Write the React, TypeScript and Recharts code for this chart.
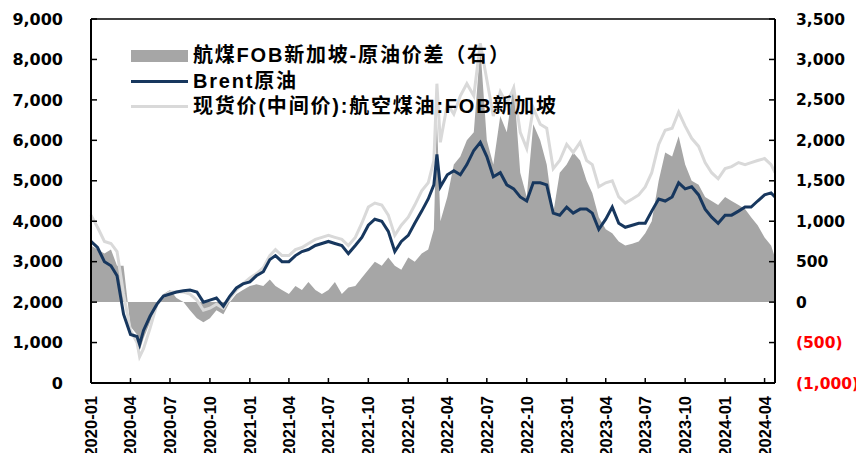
import React from 'react';
import { ComposedChart, Area, Line, XAxis, YAxis, Legend, ReferenceLine } from 'recharts';

// 日期（半月一个点，关键尖峰处补点）
const dates = [
  '2020-01-01', '2020-01-16', '2020-02-01', '2020-02-16', '2020-03-01', '2020-03-16',
  '2020-04-01', '2020-04-16', '2020-04-22', '2020-05-01', '2020-05-16', '2020-06-01',
  '2020-06-16', '2020-07-01', '2020-07-16', '2020-08-01', '2020-08-16', '2020-09-01',
  '2020-09-16', '2020-10-01', '2020-10-16', '2020-11-01', '2020-11-16', '2020-12-01',
  '2020-12-16', '2021-01-01', '2021-01-16', '2021-02-01', '2021-02-16', '2021-03-01',
  '2021-03-16', '2021-04-01', '2021-04-16', '2021-05-01', '2021-05-16', '2021-06-01',
  '2021-06-16', '2021-07-01', '2021-07-16', '2021-08-01', '2021-08-16', '2021-09-01',
  '2021-09-16', '2021-10-01', '2021-10-16', '2021-11-01', '2021-11-16', '2021-12-01',
  '2021-12-16', '2022-01-01', '2022-01-16', '2022-02-01', '2022-02-16', '2022-03-01',
  '2022-03-08', '2022-03-16', '2022-04-01', '2022-04-16', '2022-05-01', '2022-05-16',
  '2022-06-01', '2022-06-16', '2022-07-01', '2022-07-16', '2022-08-01', '2022-08-16',
  '2022-09-01', '2022-09-16', '2022-10-01', '2022-10-16', '2022-11-01', '2022-11-16',
  '2022-12-01', '2022-12-16', '2023-01-01', '2023-01-16', '2023-02-01', '2023-02-16',
  '2023-03-01', '2023-03-16', '2023-04-01', '2023-04-16', '2023-05-01', '2023-05-16',
  '2023-06-01', '2023-06-16', '2023-07-01', '2023-07-16', '2023-08-01', '2023-08-16',
  '2023-09-01', '2023-09-16', '2023-10-01', '2023-10-16', '2023-11-01', '2023-11-16',
  '2023-12-01', '2023-12-16', '2024-01-01', '2024-01-16', '2024-02-01', '2024-02-16',
  '2024-03-01', '2024-03-16', '2024-04-01', '2024-04-16', '2024-04-25',
];

// Brent原油（左轴）
const brent = [
  3500, 3350, 3000, 2900, 2650, 1700,
  1200, 1150, 950, 1300, 1650, 1950,
  2150, 2200, 2250, 2280, 2300, 2250,
  2000, 2050, 2100, 1900, 2150, 2350,
  2450, 2500, 2650, 2750, 3050, 3150,
  3000, 3000, 3150, 3250, 3300, 3400,
  3450, 3500, 3450, 3400, 3200, 3400,
  3600, 3900, 4050, 4000, 3750, 3250,
  3500, 3650, 3950, 4250, 4550, 4900,
  5650, 4850, 5150, 5250, 5150, 5400,
  5750, 5950, 5600, 5100, 5200, 4900,
  4800, 4600, 4500, 4950, 4950, 4900,
  4200, 4150, 4350, 4200, 4300, 4300,
  4200, 3800, 4050, 4350, 3950, 3850,
  3900, 3950, 3950, 4250, 4550, 4500,
  4600, 4950, 4800, 4850, 4650, 4300,
  4100, 3950, 4150, 4150, 4250, 4350,
  4350, 4500, 4650, 4700, 4600,
];

// 现货价(中间价):航空煤油:FOB新加坡（左轴）
const jetFuel = [
  4150, 3850, 3500, 3450, 3250, 2200,
  1300, 1000, 650, 850, 1350, 1950,
  2150, 2250, 2250, 2250, 2200, 2050,
  1800, 1850, 1950, 1850, 2100, 2300,
  2450, 2600, 2700, 2850, 3150, 3300,
  3150, 3150, 3300, 3350, 3450, 3550,
  3600, 3650, 3600, 3550, 3400, 3600,
  3950, 4350, 4450, 4400, 4150, 3650,
  3900, 4100, 4400, 4750, 4950, 5500,
  7400, 5950, 6900, 6650, 7100, 7400,
  7100, 8400, 7500, 6600, 7200, 6900,
  7300, 6200, 5800, 6800, 6400, 6300,
  5300, 5500, 5900, 5700, 5950, 5500,
  5400, 4850, 4950, 5000, 4600, 4450,
  4550, 4650, 4850, 5200, 5900, 6250,
  6300, 6700, 6350, 6050, 5850, 5450,
  5200, 5050, 5300, 5350, 5450, 5400,
  5450, 5500, 5550, 5400, 5200,
];

// 航煤FOB新加坡-原油价差（右轴）
const spread = [
  700, 650, 600, 650, 450, 450,
  -300, -400, -600, -450, -250, 0,
  100, 150, 50, 0, -100, -200,
  -250, -200, -100, -150, 0, 100,
  150, 200, 220, 200, 280, 200,
  150, 100, 200, 150, 250, 150,
  100, 150, 250, 100, 180, 200,
  300, 400, 500, 450, 550, 450,
  400, 550, 500, 600, 650, 900,
  2300, 1000, 1300, 1700, 1800, 2000,
  2100, 3150, 2000, 1700, 2300, 2100,
  2700, 1600, 1300, 2200, 2000, 1700,
  1100, 1600, 1700, 1850, 1750, 1500,
  1350, 1050, 900, 850, 750, 700,
  720, 750, 850, 1000, 1500, 1850,
  1800, 2050, 1700, 1500, 1450, 1300,
  1250, 1200, 1300, 1250, 1200, 1150,
  1050, 950, 800, 700, 550,
];

const quarterTicks = [
  '2020-01', '2020-04', '2020-07', '2020-10', '2021-01', '2021-04',
  '2021-07', '2021-10', '2022-01', '2022-04', '2022-07', '2022-10',
  '2023-01', '2023-04', '2023-07', '2023-10', '2024-01', '2024-04',
];

const leftTicks = [0, 1000, 2000, 3000, 4000, 5000, 6000, 7000, 8000, 9000];
const rightTicks = [-1000, -500, 0, 500, 1000, 1500, 2000, 2500, 3000, 3500];

const legendItems = [
  { label: '航煤FOB新加坡-原油价差（右）', kind: 'area', color: '#A6A6A6' },
  { label: 'Brent原油', kind: 'line', color: '#17375E' },
  { label: '现货价(中间价):航空煤油:FOB新加坡', kind: 'line', color: '#D9D9D9' },
];

const toTime = (d: string) => Date.parse(d.length === 7 ? d + '-01' : d);
const fmtMonth = (v: number) => new Date(v).toISOString().slice(0, 7);
const fmtNum = (v: number) => Math.abs(v).toLocaleString('en-US');

const data = dates.map((d, i) => ({
  t: toTime(d),
  brent: brent[i],
  jet: jetFuel[i],
  spread: spread[i],
}));

const numFont = "'DejaVu Sans', Verdana, sans-serif";

const DateTick = ({ x, y, payload }: any) => (
  <text
    x={x}
    y={y}
    transform={`rotate(-90, ${x}, ${y})`}
    textAnchor="end"
    dy="0.36em"
    fill="#000"
    fontFamily="'Liberation Sans', Arial, sans-serif"
    fontWeight="bold"
    fontSize={16.5}
  >
    {fmtMonth(payload.value)}
  </text>
);

const RightTick = ({ x, y, payload }: any) => {
  const v = payload.value as number;
  const neg = v < 0;
  return (
    <text x={x} y={y} dy="0.36em" textAnchor="start" fill={neg ? '#FF0000' : '#000'}
      fontFamily={numFont} fontWeight="bold" fontSize={15.5}>
      {neg ? `(${fmtNum(v)})` : fmtNum(v)}
    </text>
  );
};

const renderLegend = () => (
  <div style={{ fontFamily: "'Liberation Sans', 'Noto Sans CJK SC', sans-serif", fontWeight: 700, fontSize: 20, letterSpacing: 1.8, color: '#000' }}>
    {legendItems.map(item => (
      <div key={item.label} style={{ display: 'flex', alignItems: 'center', height: 25.5, lineHeight: '25px', whiteSpace: 'nowrap' }}>
        <span style={{ display: 'inline-block', width: 57, height: item.kind === 'area' ? 12 : 3, background: item.color, marginRight: 5 }} />
        <span>{item.label}</span>
      </div>
    ))}
  </div>
);

export default function App() {
  return (
    <div style={{ width: 848, height: 445 }}>
      <ComposedChart width={856} height={453} data={data} margin={{ top: 11, right: 8, bottom: 0, left: 0 }}>
        <XAxis
          dataKey="t"
          type="number"
          domain={['dataMin', 'dataMax']}
          ticks={quarterTicks.map(toTime)}
          interval={0}
          height={78}
          tickSize={-5}
          tickMargin={18}
          tick={<DateTick />}
          axisLine={{ stroke: '#000', strokeWidth: 2 }}
          tickLine={{ stroke: '#000', strokeWidth: 1.5 }}
        />
        <YAxis
          yAxisId="left"
          orientation="left"
          domain={[0, 9000]}
          ticks={leftTicks}
          interval={0}
          width={83}
          tickSize={-6}
          tickMargin={34}
          tickFormatter={fmtNum}
          tick={{ fill: '#000', fontSize: 16, fontWeight: 'bold', fontFamily: numFont }}
          axisLine={{ stroke: '#000', strokeWidth: 2 }}
          tickLine={{ stroke: '#000', strokeWidth: 1.5 }}
        />
        <YAxis
          yAxisId="right"
          orientation="right"
          domain={[-1000, 3500]}
          ticks={rightTicks}
          interval={0}
          width={81}
          tickSize={-6}
          tickMargin={27}
          tick={<RightTick />}
          axisLine={{ stroke: '#000', strokeWidth: 2 }}
          tickLine={{ stroke: '#000', strokeWidth: 1.5 }}
        />
        <ReferenceLine yAxisId="left" y={9000} stroke="#000" strokeWidth={1.5} ifOverflow="visible" />
        <Legend
          layout="vertical"
          align="center"
          verticalAlign="middle"
          content={renderLegend}
          wrapperStyle={{ left: 123, top: 35, width: 'auto', height: 'auto' }}
        />
        <Area
          yAxisId="right"
          type="linear"
          dataKey="spread"
          baseValue={0}
          stroke="none"
          fill="#A6A6A6"
          fillOpacity={1}
          dot={false}
          activeDot={false}
          isAnimationActive={false}
        />
        <Line
          yAxisId="left"
          type="linear"
          dataKey="jet"
          stroke="#D9D9D9"
          strokeWidth={3}
          dot={false}
          activeDot={false}
          isAnimationActive={false}
        />
        <Line
          yAxisId="left"
          type="linear"
          dataKey="brent"
          stroke="#17375E"
          strokeWidth={3}
          dot={false}
          activeDot={false}
          isAnimationActive={false}
        />
      </ComposedChart>
    </div>
  );
}
